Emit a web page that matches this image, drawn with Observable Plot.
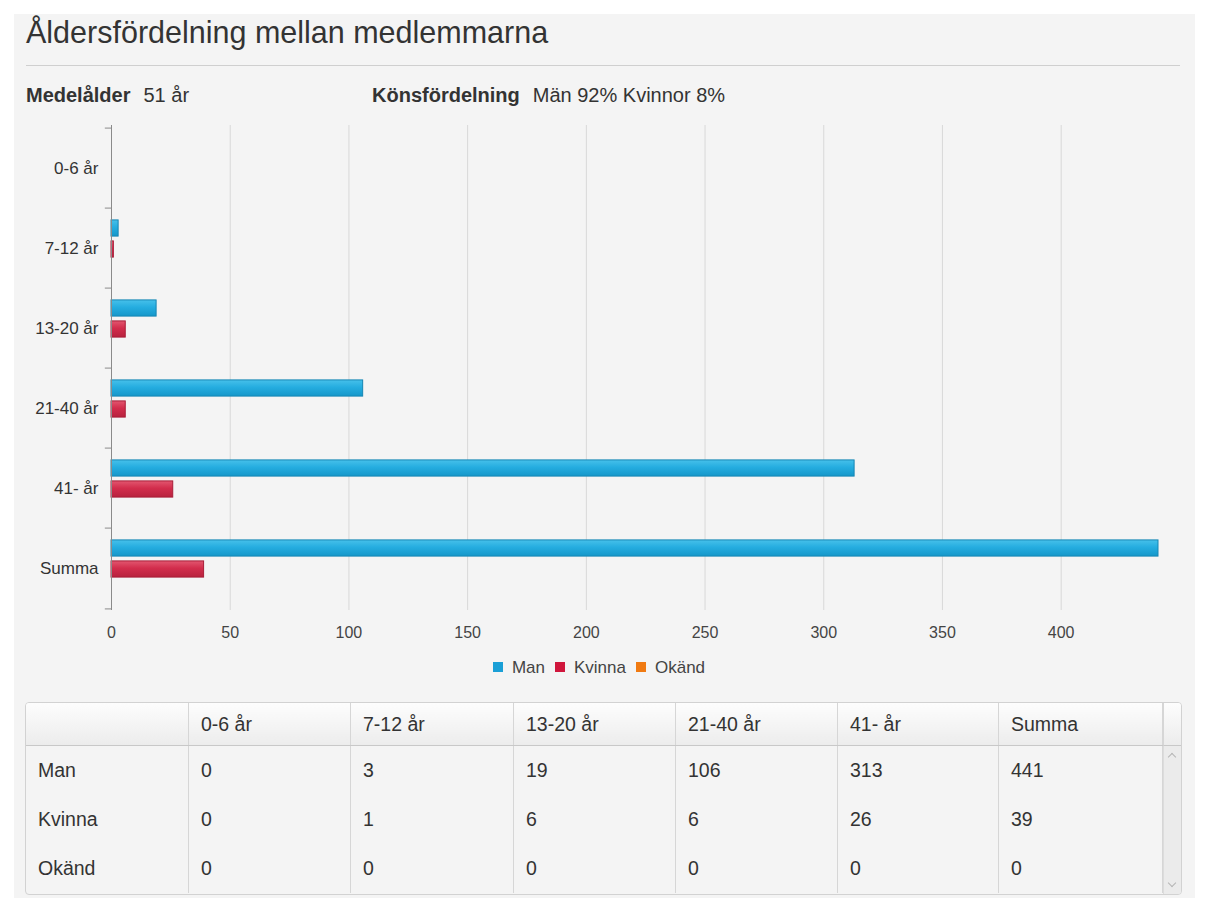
<!DOCTYPE html>
<html>
<head>
<meta charset="utf-8">
<script src="https://cdn.jsdelivr.net/npm/d3@7"></script>
<script src="https://cdn.jsdelivr.net/npm/@observablehq/plot@0.6"></script>
<style>
  html, body { margin: 0; padding: 0; background: #fff; }
  body { width: 1208px; height: 898px; position: relative; overflow: hidden;
         font-family: "Liberation Sans", Arial, sans-serif; color: #333; }
  #panel { position: absolute; left: 14px; top: 14px; width: 1181px; height: 900px; background: #f4f4f4; }
  #title { position: absolute; left: 26px; top: 15px; font-size: 30.5px; color: #333; white-space: nowrap; }
  #hr { position: absolute; left: 26px; top: 65px; width: 1154px; height: 1px; background: #cfcfcf; }
  .stat { position: absolute; top: 84px; font-size: 20px; color: #333; white-space: nowrap; }
  .stat b { font-weight: bold; margin-right: 13px; }
  #chart { position: absolute; left: 14px; top: 117px; }
  #legend { position: absolute; left: 0; width: 1208px; top: 658px; text-align: center; font-size: 17px; color: #444; padding-left: 0px; }
  #legend span.sw { display: inline-block; width: 10px; height: 10px; margin: 0 9px 0 0; vertical-align: 1px; }
  #legend span.lab { margin-right: 10px; }
  #tbl { position: absolute; left: 25px; top: 702px; width: 1155px; height: 191px; border: 1px solid #d2d2d2; border-radius: 4px;
         overflow: hidden; background: #f4f4f4; }
  table { border-collapse: collapse; font-size: 19.5px; color: #333; position: absolute; left: 0; top: 0; }
  th { font-weight: normal; text-align: left; height: 42px; padding: 0 0 0 12px; border-right: 1px solid #d6d6d6;
       border-bottom: 1px solid #c8c8c8; background: linear-gradient(#fdfdfd, #ececec); }
  td { text-align: left; height: 49px; padding: 0 0 0 12px; border-right: 1px solid #d6d6d6; }
  #scroll { position: absolute; right: 0; top: 43px; width: 17px; height: 148px; background: #ebebeb; border-left: 1px solid #dcdcdc; }
  #scrollhead { position: absolute; right: 0; top: 0; width: 17px; height: 42px; border-left: 1px solid #d6d6d6; border-bottom: 1px solid #c8c8c8; background: linear-gradient(#fdfdfd, #ececec); }
  .chev { position: absolute; left: 5px; width: 5px; height: 5px; border-left: 1px solid #b5b5b5; border-top: 1px solid #b5b5b5; }
</style>
</head>
<body>
<div id="panel"></div>
<div id="title">Åldersfördelning mellan medlemmarna</div>
<div id="hr"></div>
<div class="stat" style="left:26px"><b>Medelålder</b><span id="medel"></span></div>
<div class="stat" style="left:372px"><b>Könsfördelning</b><span id="kon"></span></div>
<div id="chart"></div>
<div id="legend"></div>
<div id="tbl"></div>
<script>
// ---- data ----
const categories = ["0-6 år", "7-12 år", "13-20 år", "21-40 år", "41- år", "Summa"];
const series = ["Man", "Kvinna", "Okänd"];
const man = [0, 3, 19, 106, 313, 441];
const kvinna = [0, 1, 6, 6, 26, 39];
const okand = [0, 0, 0, 0, 0, 0];
const xTicks = [0, 50, 100, 150, 200, 250, 300, 350, 400];
const seriesColors = ["#1a9fd6", "#d0163c", "#f07a12"];
const medelalder = "51 år";
const konsfordelning = "Män 92% Kvinnor 8%";

document.getElementById("medel").textContent = medelalder;
document.getElementById("kon").textContent = konsfordelning;

const valuesBySeries = { "Man": man, "Kvinna": kvinna, "Okänd": okand };
const rows = [];
series.forEach(s => categories.forEach((c, i) => rows.push({ series: s, category: c, value: valuesBySeries[s][i] })));

// ---- chart ----
const H = 528, mt = 8, mb = 35;
const bw = (H - mt - mb) / categories.length;
const slot = 21, pad = (bw - 3 * slot) / 2;
const barOpts = (s, k) => ({
  x: "value", y: "category",
  fill: `url(#grad-${k})`, stroke: k === 0 ? "#1686b4" : k === 1 ? "#a91d38" : "#c8600c", strokeWidth: 1,
  insetTop: pad + k * slot + 3, insetBottom: bw - pad - (k + 1) * slot + 1
});

const chart = Plot.plot({
  width: 1166, height: H,
  marginLeft: 97, marginRight: 22, marginTop: mt, marginBottom: mb,
  style: { background: "transparent", fontFamily: "'Liberation Sans', Arial, sans-serif", fontSize: "16px", color: "#444" },
  x: { domain: [0, 441], ticks: xTicks, label: null },
  y: { domain: categories, padding: 0, label: null },
  marks: [
    Plot.gridX(xTicks.filter(t => t > 0), { stroke: "#d8d8d8", strokeOpacity: 1 }),
    Plot.axisX({ ticks: xTicks, tickSize: 0, tickPadding: 16, label: null, fill: "#444", fontSize: 16 }),
    Plot.axisY({ tickSize: 0, tickPadding: 13, label: null, fill: "#333", fontSize: 17 }),
    ...series.map((s, k) => Plot.barX(rows.filter(r => r.series === s && r.value > 0), barOpts(s, k))),
    Plot.ruleX([0], { stroke: "#8a8a8a" }),
    Plot.ruleY(categories, { y: d => d, x1: -2.6, x2: 0, stroke: "#8a8a8a", dy: -bw / 2 }),
    Plot.ruleY(categories.slice(-1), { y: d => d, x1: -2.6, x2: 0, stroke: "#8a8a8a", dy: bw / 2 })
  ]
});

// gradients for bars
const ns = "http://www.w3.org/2000/svg";
const defs = document.createElementNS(ns, "defs");
const stops = [
  ["#46c0ea", "#25ade0", "#1597c9"],
  ["#e2566f", "#d22d4c", "#b8223e"],
  ["#f9a04a", "#f07d12", "#d9680a"]
];
stops.forEach((st, k) => {
  const g = document.createElementNS(ns, "linearGradient");
  g.setAttribute("id", `grad-${k}`);
  g.setAttribute("x1", "0"); g.setAttribute("y1", "0"); g.setAttribute("x2", "0"); g.setAttribute("y2", "1");
  [[0, st[0]], [0.45, st[1]], [1, st[2]]].forEach(([o, c]) => {
    const s = document.createElementNS(ns, "stop");
    s.setAttribute("offset", o); s.setAttribute("stop-color", c);
    g.appendChild(s);
  });
  defs.appendChild(g);
});
chart.insertBefore(defs, chart.firstChild);
document.getElementById("chart").appendChild(chart);

// ---- legend ----
const leg = document.getElementById("legend");
series.forEach((s, k) => {
  const sw = document.createElement("span"); sw.className = "sw"; sw.style.background = seriesColors[k];
  const lab = document.createElement("span"); lab.className = "lab"; lab.textContent = s;
  leg.appendChild(sw); leg.appendChild(lab);
});

// ---- table ----
const colW = [163, 162, 163, 162, 162, 161, 164];
const tbl = document.getElementById("tbl");
const t = document.createElement("table");
const thead = document.createElement("tr");
["", ...categories].forEach((c, i) => {
  const th = document.createElement("th"); th.textContent = c; th.style.width = (colW[i] - 13) + "px"; th.style.minWidth = (colW[i] - 13) + "px";
  thead.appendChild(th);
});
t.appendChild(thead);
series.forEach(s => {
  const tr = document.createElement("tr");
  [s, ...valuesBySeries[s]].forEach((v, i) => {
    const td = document.createElement("td"); td.textContent = v;
    td.style.width = (colW[i] - 13) + "px";
    tr.appendChild(td);
  });
  t.appendChild(tr);
});
tbl.appendChild(t);
const sh = document.createElement("div"); sh.id = "scrollhead"; tbl.appendChild(sh);
const sc = document.createElement("div"); sc.id = "scroll";
sc.innerHTML = '<div class="chev" style="top:8px;transform:rotate(45deg)"></div><div class="chev" style="bottom:8px;transform:rotate(225deg)"></div>';
tbl.appendChild(sc);
</script>
</body>
</html>
